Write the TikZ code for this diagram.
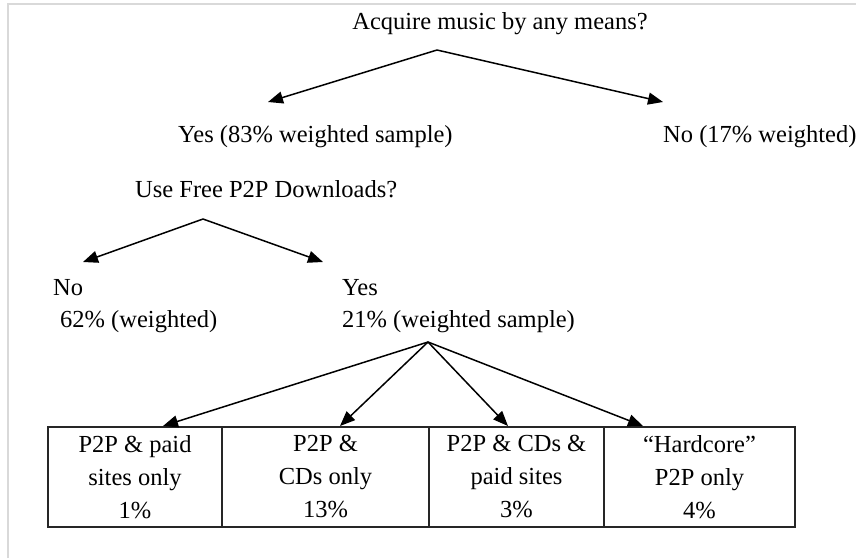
\documentclass[tikz,border=0pt]{standalone}
\usepackage{fontspec}
\setmainfont{Liberation Serif}
\usetikzlibrary{arrows.meta,positioning}

\tikzset{
  lbl/.style={inner sep=0pt, anchor=base west, font=\fontsize{24.5}{33}\selectfont},
  branch/.style={line width=1.5pt, -{Triangle[length=15pt,width=12pt]}},
  cell/.style={draw=black!85, line width=1.5pt, inner sep=0pt, outer sep=0pt,
    minimum height=100pt, align=center, font=\fontsize{24.5}{33}\selectfont}
}

\begin{document}
\begin{tikzpicture}[x=1pt,y=-1pt]
\useasboundingbox (0,0) rectangle (856,558);

% faint page frame
\draw[black!15, line width=1.5pt] (8,558) -- (8,4) -- (856,4);

% Acquire music?
\node[lbl, anchor=base] (acquire) at (500,29) {Acquire music by any means?};
\node[lbl] (yesall) at (178,142) {Yes (83\% weighted sample)};
\node[lbl] (noall) at (663,142) {No (17\% weighted)};
\coordinate (fork1) at (437,50);
\coordinate (tipyes) at (268,102);
\coordinate (tipno) at (663,102);
\draw[branch] (fork1) -- (tipyes);
\draw[branch] (fork1) -- (tipno);

% Free P2P?
\node[lbl] (usep2p) at (135,197) {Use Free P2P Downloads?};
\node[lbl] (nop2p) at (53,295) {No};
\node[lbl] (nopct) at (60,327) {62\% (weighted)};
\node[lbl] (yesp2p) at (342,295) {Yes};
\node[lbl] (yespct) at (342,327) {21\% (weighted sample)};
\coordinate (fork2) at (203,219);
\coordinate (tipnop2p) at (83,262);
\coordinate (tipyesp2p) at (323,262);
\draw[branch] (fork2) -- (tipnop2p);
\draw[branch] (fork2) -- (tipyesp2p);

% P2P users split
\node[cell, minimum width=174pt, anchor=north west] (paid) at (48,427)
  {P2P \& paid\\sites only\\1\%};
\node[cell, minimum width=207pt, right=0pt of paid] (cds) {P2P \&\\CDs only\\13\%};
\node[cell, minimum width=175pt, right=0pt of cds] (both) {P2P \& CDs \&\\paid sites\\3\%};
\node[cell, minimum width=191pt, right=0pt of both] (hard) {``Hardcore''\\P2P only\\4\%};
\coordinate (fork3) at (428,342);
\foreach \c/\x in {paid/163, cds/340, both/508, hard/643} {
  \coordinate (tip\c) at (\x,426);
  \draw[branch] (fork3) -- (tip\c);
}

\end{tikzpicture}
\end{document}
